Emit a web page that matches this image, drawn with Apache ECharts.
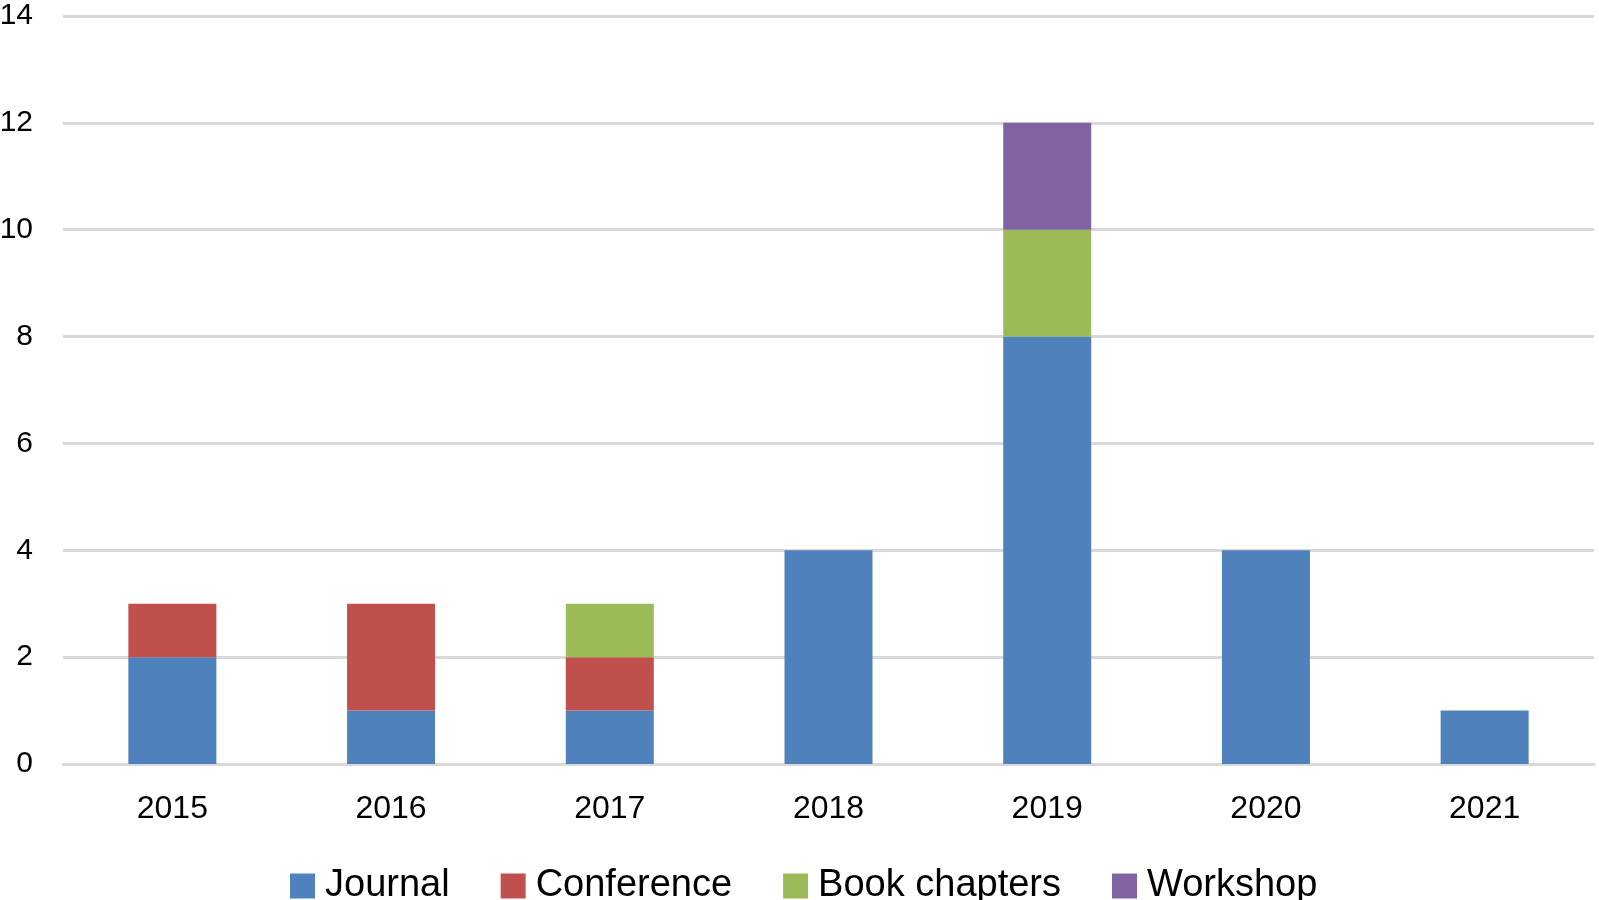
<!DOCTYPE html>
<html>
<head>
<meta charset="utf-8">
<script src="https://cdn.jsdelivr.net/npm/echarts@6/dist/echarts.min.js"></script>
<style>
  html, body { margin: 0; padding: 0; background: #fff; }
  #chart1 { width: 1599px; height: 900px; }
</style>
</head>
<body>
<div id="chart1"></div>
<script>
var years = ['2015', '2016', '2017', '2018', '2019', '2020', '2021'];
var journal = [2, 1, 1, 4, 8, 4, 1];
var conference = [1, 2, 1, 0, 0, 0, 0];
var bookChapters = [0, 0, 1, 0, 2, 0, 0];
var workshop = [0, 0, 0, 0, 2, 0, 0];

var chart = echarts.init(document.getElementById('chart1'));

var font = 'Liberation Sans, Arial, sans-serif';

function bar(name, data, color) {
    return {
        name: name,
        type: 'bar',
        stack: 'total',
        barWidth: 88,
        data: data,
        itemStyle: { color: color },
        emphasis: { disabled: true }
    };
}

var option = {
    animation: false,
    grid: { left: 63, right: 5, top: 16, bottom: 136, containLabel: false, outerBoundsMode: 'none' },
    legend: {
        left: 290,
        top: 867,
        padding: 0,
        itemWidth: 25,
        itemHeight: 25,
        itemGap: 51,
        icon: 'rect',
        textStyle: { fontFamily: font, fontSize: 38, color: '#000', padding: [0, 0, 0, 5] },
        data: ['Journal', 'Conference', 'Book chapters', 'Workshop']
    },
    xAxis: {
        type: 'category',
        data: years,
        axisLine: { lineStyle: { color: '#d9d9d9', width: 3 } },
        axisTick: { show: false },
        axisLabel: { color: '#000', fontFamily: font, fontSize: 32, margin: 29 }
    },
    yAxis: {
        type: 'value',
        min: 0,
        max: 14,
        interval: 2,
        axisLine: { show: false },
        axisTick: { show: false },
        splitLine: { lineStyle: { color: '#d9d9d9', width: 3 } },
        axisLabel: { color: '#000', fontFamily: font, fontSize: 30, margin: 30 }
    },
    series: [
        bar('Journal', journal, '#4f81bd'),
        bar('Conference', conference, '#c0504d'),
        bar('Book chapters', bookChapters, '#9bbb59'),
        bar('Workshop', workshop, '#8064a2')
    ]
};

chart.setOption(option);
</script>
</body>
</html>
